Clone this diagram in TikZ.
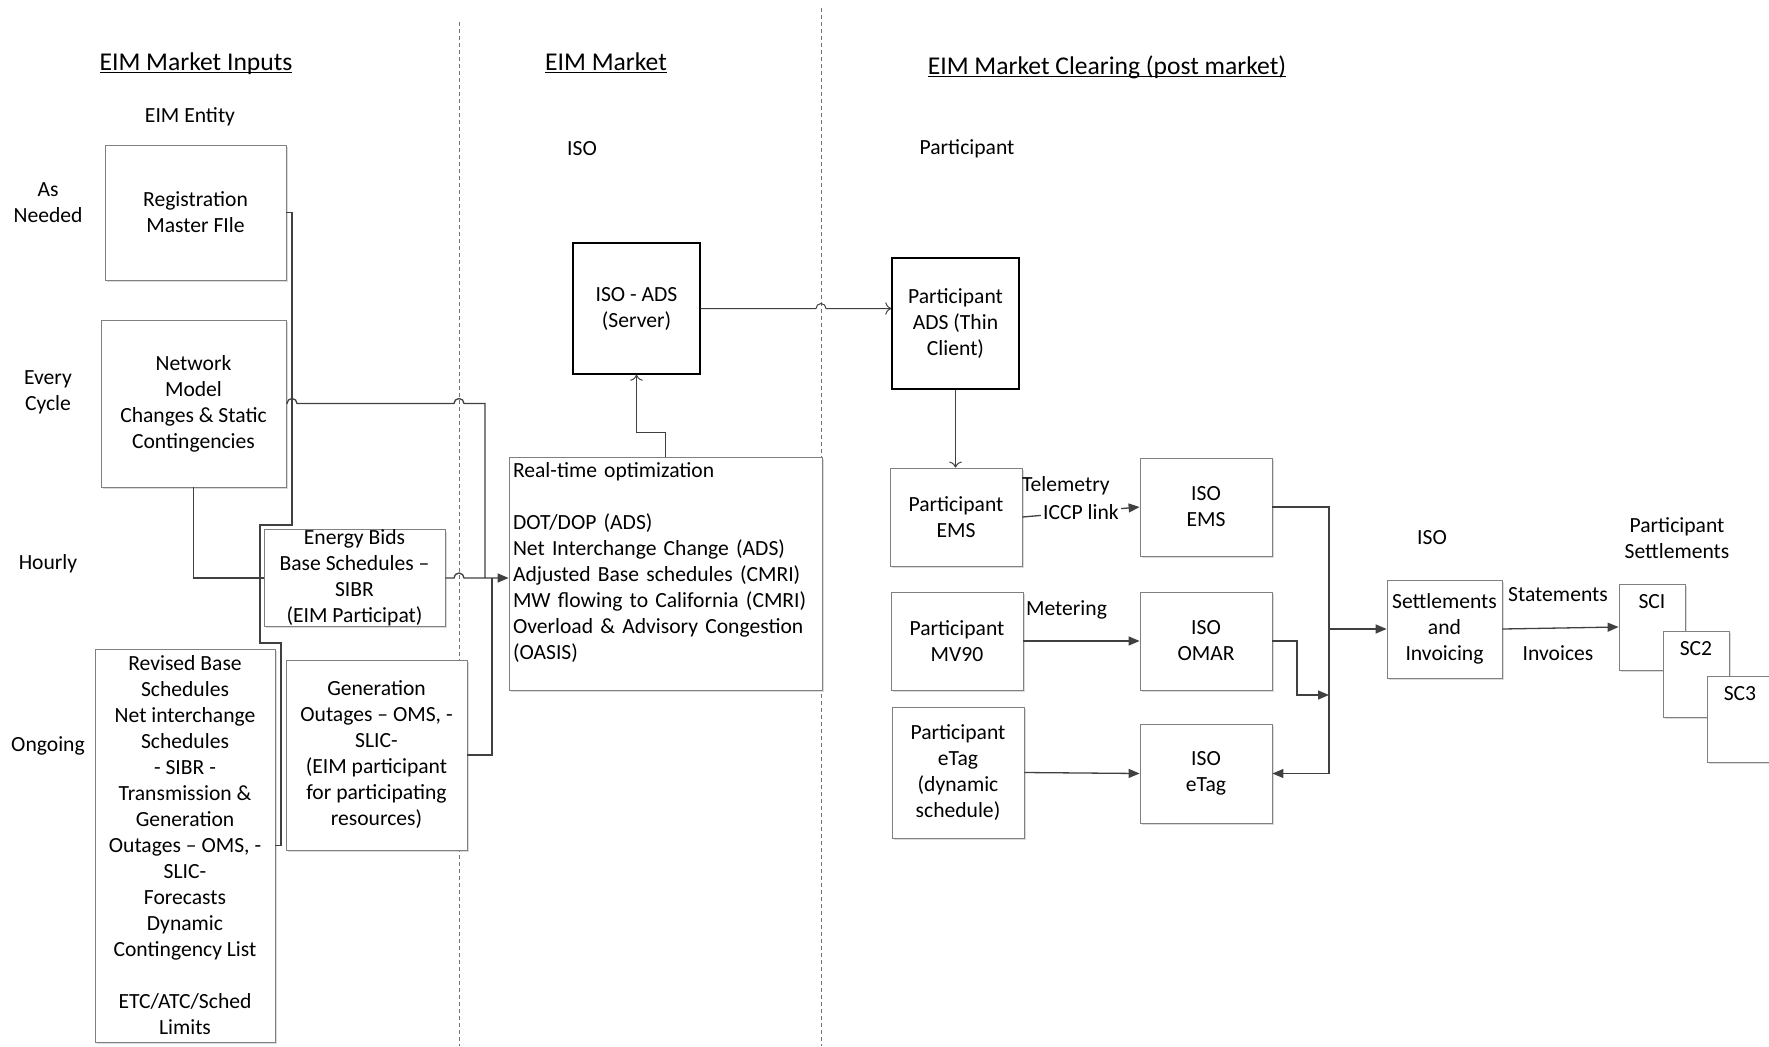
\documentclass[tikz,border=0pt]{standalone}
\usepackage{fontspec}
\setmainfont{Carlito}
\usetikzlibrary{arrows.meta,shadows}

\begin{document}
\begin{tikzpicture}[x=0.5pt, y=-0.5pt, font=\fontsize{10.8}{13}\selectfont,
  wh/.style 2 args={minimum width=#1*0.5pt, minimum height=#2*0.5pt},
  main box/.style={rectangle, draw=black!50, fill=white, align=center, inner sep=0pt,
    drop shadow={shadow xshift=1pt, shadow yshift=-1pt, fill=black!35, opacity=0.4}},
  ads box/.style={rectangle, draw=black, line width=0.7pt, fill=white, align=center, inner sep=0pt},
  lbl/.style={align=center},
  head/.style={font=\fontsize{12.8}{15}\selectfont},
  lane/.style={draw=black!55, line width=0.4pt, dash pattern=on 2pt off 1.5pt},
  conn/.style={draw=black!75, line width=0.65pt},
  arr/.style={conn, -{Triangle[length=5.5pt,width=4.5pt]}},
  thin arr/.style={conn, line width=0.5pt, -{To[length=3pt]}}]

  \useasboundingbox (0,0) rectangle (1769,1046);

  \draw[lane] (459,22) -- (459,1046);
  \draw[lane] (821,8) -- (821,1046);

  \node[head] (hinputs) at (196,72) {\underline{\smash{EIM Market Inputs}}};
  \node[head] (hmarket) at (606,72) {\underline{\smash{EIM Market}}};
  \node[head] (hclear) at (1107,76) {\underline{\smash{EIM Market Clearing (post market)}}};

  \node[lbl] (entity) at (190,117) {EIM Entity};
  \node[lbl] (isolbl) at (582,149) {ISO};
  \node[lbl] (partlbl) at (967,149) {Participant};
  \node[lbl] (asneeded) at (48,203) {As\\Needed};
  \node[lbl] (everycycle) at (48,392) {Every\\Cycle};
  \node[lbl] (hourly) at (48,564) {Hourly};
  \node[lbl] (ongoing) at (48,746) {Ongoing};

  \node[main box, wh={181}{135}] (reg) at (195.5,212.5) {Registration\\Master FIle};
  \node[main box, wh={185}{167}] (net) at (193.5,403.5) {Network\\Model\\Changes \& Static\\Contingencies};
  \node[main box, wh={181}{96}] (eb) at (354.5,578) {Energy Bids\\Base Schedules --\\SIBR\\(EIM Participat)};
  \node[main box, wh={180}{393}] (rev) at (185,845.5) {Revised Base\\Schedules\\Net interchange\\Schedules\\- SIBR -\\Transmission \&\\Generation\\Outages -- OMS, -\\SLIC-\\Forecasts\\Dynamic\\Contingency List\\[13pt]ETC/ATC/Sched\\Limits};
  \node[main box, wh={181}{190}] (gen) at (376.5,755) {Generation\\Outages -- OMS, -\\SLIC-\\(EIM participant\\for participating\\resources)};

  \node[main box, wh={313}{233}, align=left, text width=152.5pt] (rt) at (665.5,573.5) {Real-time optimization\\[13pt]DOT/DOP (ADS)\\Net Interchange Change (ADS)\\Adjusted Base schedules (CMRI)\\MW flowing to California (CMRI)\\Overload \& Advisory Congestion\\(OASIS)\\\mbox{}};
  \node[ads box, wh={127}{131}] (isoads) at (636.5,308.5) {ISO - ADS\\(Server)};
  \node[ads box, wh={127}{131}] (pads) at (955.5,323.5) {Participant\\ADS (Thin\\Client)};

  \node[main box, wh={132}{98}] (pems) at (956,517) {Participant\\EMS};
  \node[main box, wh={132}{98}] (isoems) at (1206,507) {ISO\\EMS};
  \node[main box, wh={132}{98}] (mv90) at (957,641) {Participant\\MV90};
  \node[main box, wh={132}{98}] (omar) at (1206,641) {ISO\\OMAR};
  \node[main box, wh={132}{131}] (petag) at (958,772.5) {Participant\\eTag\\(dynamic\\schedule)};
  \node[main box, wh={132}{99}] (isoetag) at (1206,773.5) {ISO\\eTag};

  \node[lbl] (isolbl2) at (1432,538) {ISO};
  \node[lbl] (setlbl) at (1677,538) {Participant\\Settlements};
  \node[main box, wh={115}{98}] (settle) at (1444.5,629) {Settlements\\and\\Invoicing};
  \node[main box, wh={66}{86}, label={[anchor=north, yshift=-2pt]north:SCI}] (sc1) at (1652,627) {};
  \node[main box, wh={66}{86}, label={[anchor=north, yshift=-2pt]north:SC2}] (sc2) at (1696,674) {};
  \node[main box, wh={66}{86}, label={[anchor=north, yshift=-2pt]north:SC3}] (sc3) at (1740,719) {};

  \node[anchor=west] (telem) at (1015,486) {Telemetry};
  \node[anchor=west] (meter) at (1019,610) {Metering};
  \node[lbl] (stmt) at (1558,595) {Statements};
  \node[lbl] (inv) at (1558,653) {Invoices};

  \coordinate (bus) at (1329,629);
  \coordinate (omarin) at (1329,695);

  \draw[conn] (reg.east) -| (292,525) -| (260,643) -| (281,845.5) -- (rev.east);
  \draw[conn] (net.east) -- (287,403.5) arc[start angle=180, end angle=0, radius=2.5pt]
    -- (454,403.5) arc[start angle=180, end angle=0, radius=2.5pt] -- (485,403.5) -- (485,578);
  \draw[conn] (net.south) |- (eb.west);
  \draw[arr] (eb.east) -- (454,578) arc[start angle=180, end angle=0, radius=2.5pt] -- (rt.west |- eb.east);
  \draw[conn] (gen.east) -| (492,578);
  \draw[thin arr] (rt.north) -- (665.5,432) -| (isoads.south);
  \draw[thin arr] (isoads.east) -- (816,308.5) arc[start angle=180, end angle=0, radius=2.5pt] -- (pads.west |- isoads.east);
  \draw[thin arr] (pads.south) -- (pads.south |- pems.north);
  \draw[arr] (pems.east) -- node[fill=white, inner sep=1pt] (iccp) {ICCP link} (isoems.west);
  \draw[arr] (mv90.east) -- (omar.west);
  \draw[arr] (petag.east) -- (isoetag.west);
  \draw[arr] (isoems.east) -| (bus) |- (isoetag.east);
  \draw[arr] (omar.east) -- (1297,641) |- (omarin);
  \draw[arr] (bus) -- (settle.west);
  \draw[arr] (settle.east) -- (sc1.west);

\end{tikzpicture}
\end{document}
